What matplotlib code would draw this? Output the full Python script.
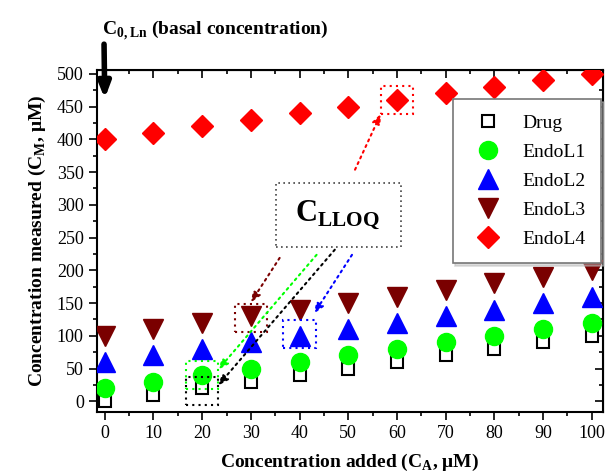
import matplotlib
matplotlib.use("Agg")
import matplotlib.pyplot as plt
from matplotlib.patches import Rectangle
from matplotlib.ticker import MultipleLocator

added = [0, 10, 20, 30, 40, 50, 60, 70, 80, 90, 100]
drug = [0, 10, 20, 30, 40, 50, 60, 70, 80, 90, 100]
endo_l1 = [20, 30, 40, 50, 60, 70, 80, 90, 100, 110, 120]
endo_l2 = [60, 70, 80, 90, 100, 110, 120, 130, 140, 150, 160]
endo_l3 = [100, 110, 120, 130, 140, 150, 160, 170, 180, 190, 200]
endo_l4 = [400, 410, 420, 430, 440, 450, 460, 470, 480, 490, 500]

plt.rcParams["font.family"] = ["Liberation Serif", "DejaVu Serif"]
plt.rcParams["mathtext.fontset"] = "custom"
plt.rcParams["mathtext.rm"] = "Liberation Serif"
plt.rcParams["mathtext.bf"] = "Liberation Serif:bold"

fig = plt.figure(figsize=(6.06, 4.75), dpi=100)
ax = fig.add_axes([0.160, 0.133, 0.835, 0.720])

dark_red = "#7a0000"
ax.plot(added, drug, "s", ms=9, mfc="white", mec="black", mew=1.5, label="Drug", zorder=3)
ax.plot(added, endo_l1, "o", ms=13, color="#00ff00", label="EndoL1", zorder=4)
ax.plot(added, endo_l2, "^", ms=14, color="blue", label="EndoL2", zorder=4)
ax.plot(added, endo_l3, "v", ms=14, color=dark_red, label="EndoL3", zorder=4)
ax.plot(added, endo_l4, "D", ms=11, color="red", label="EndoL4", zorder=4)

ax.set_xlim(-1.6, 102.3)
ax.set_ylim(-16, 506)
ax.xaxis.set_major_locator(MultipleLocator(10))
ax.xaxis.set_minor_locator(MultipleLocator(5))
ax.yaxis.set_major_locator(MultipleLocator(50))
ax.yaxis.set_minor_locator(MultipleLocator(25))
ax.tick_params(which="both", direction="out", labelsize=13, width=1.2)
ax.tick_params(which="major", length=6)
ax.tick_params(which="minor", length=3)
for s in ax.spines.values():
    s.set_linewidth(1.5)

# mirrored inward ticks on top/right
for pos in ("top", "right"):
    sec = ax.secondary_xaxis("top") if pos == "top" else ax.secondary_yaxis("right")
    axis = sec.xaxis if pos == "top" else sec.yaxis
    maj, mnr = (10, 5) if pos == "top" else (50, 25)
    axis.set_major_locator(MultipleLocator(maj))
    axis.set_minor_locator(MultipleLocator(mnr))
    sec.tick_params(which="both", direction="in", labelleft=False, labelright=False,
                    labeltop=False, labelbottom=False, width=1.2)
    sec.tick_params(which="major", length=6)
    sec.tick_params(which="minor", length=3)

ax.set_xlabel(r"Concentration added (C$_\mathbf{A}$, $\mathbf{\mu}$M)", fontsize=14, fontweight="bold", labelpad=7)
ax.set_ylabel(r"Concentration measured (C$_\mathbf{M}$, $\mathbf{\mu}$M)", fontsize=14, fontweight="bold", labelpad=6)

leg = ax.legend(loc="upper right", bbox_to_anchor=(0.997, 0.915), fontsize=14, frameon=True,
                fancybox=False, shadow={"ox": 2, "oy": -2, "color": "#bbbbbb"},
                borderpad=0.8, labelspacing=0.58, handletextpad=0.8, borderaxespad=0.0)
leg.get_frame().set_edgecolor("#777777")
leg.get_frame().set_linewidth(1.2)

# basal concentration arrow
fig.text(0.168, 0.925, r"C$_{\mathbf{0,Ln}}$ (basal concentration)", fontsize=14, fontweight="bold")
ax.annotate("", xy=(added[0], 462), xytext=(0.014, 1.075), textcoords="axes fraction",
            annotation_clip=False,
            arrowprops=dict(arrowstyle="-|>,head_width=0.35,head_length=0.9", lw=4, color="black",
                            shrinkA=0, shrinkB=0))

# C_LLOQ box
ax.add_patch(Rectangle((0.353, 0.482), 0.247, 0.188, transform=ax.transAxes, fill=False,
                       ls=(0, (1, 2)), lw=1.2, ec="#444444", zorder=5))
ax.text(0.476, 0.576, r"C$_{\mathbf{LLOQ}}$", transform=ax.transAxes, fontsize=22,
        fontweight="bold", ha="center", va="center")

# dotted boxes around the LLOQ points and arrows to them
picks = [
    (added[2], drug[2] - 4, "black", (0.470, 0.474)),
    (added[2], endo_l1[2], "#00ff00", (0.434, 0.459)),
    (added[3], endo_l3[3] - 3, dark_red, (0.361, 0.450)),
    (added[4], endo_l2[4] + 3, "blue", (0.504, 0.459)),
    (added[6], endo_l4[6], "red", (0.510, 0.708)),
]
hw, hh = 3.3, 21
for x, y, c, start in picks:
    ax.add_patch(Rectangle((x - hw, y - hh), 2 * hw, 2 * hh, fill=False, ec=c,
                           ls=(0, (1, 2)), lw=1.5, zorder=5))
    if c == "red":
        tip = (x - hw, y - hh)
    elif c == "#00ff00" or c == "black":
        tip = (x + hw, y + hh * 0.4)
    elif c == "blue":
        tip = (x + hw * 0.9, y + hh + 10)
    else:
        tip = (x, y + hh + 3)
    ax.annotate("", xy=tip, xytext=start, textcoords="axes fraction",
                arrowprops=dict(arrowstyle="-|>,head_width=0.25,head_length=0.6", ls=(0, (1, 2)),
                                lw=1.5, color=c, shrinkA=0, shrinkB=0), zorder=6)

fig.savefig("out.png", dpi=100)
